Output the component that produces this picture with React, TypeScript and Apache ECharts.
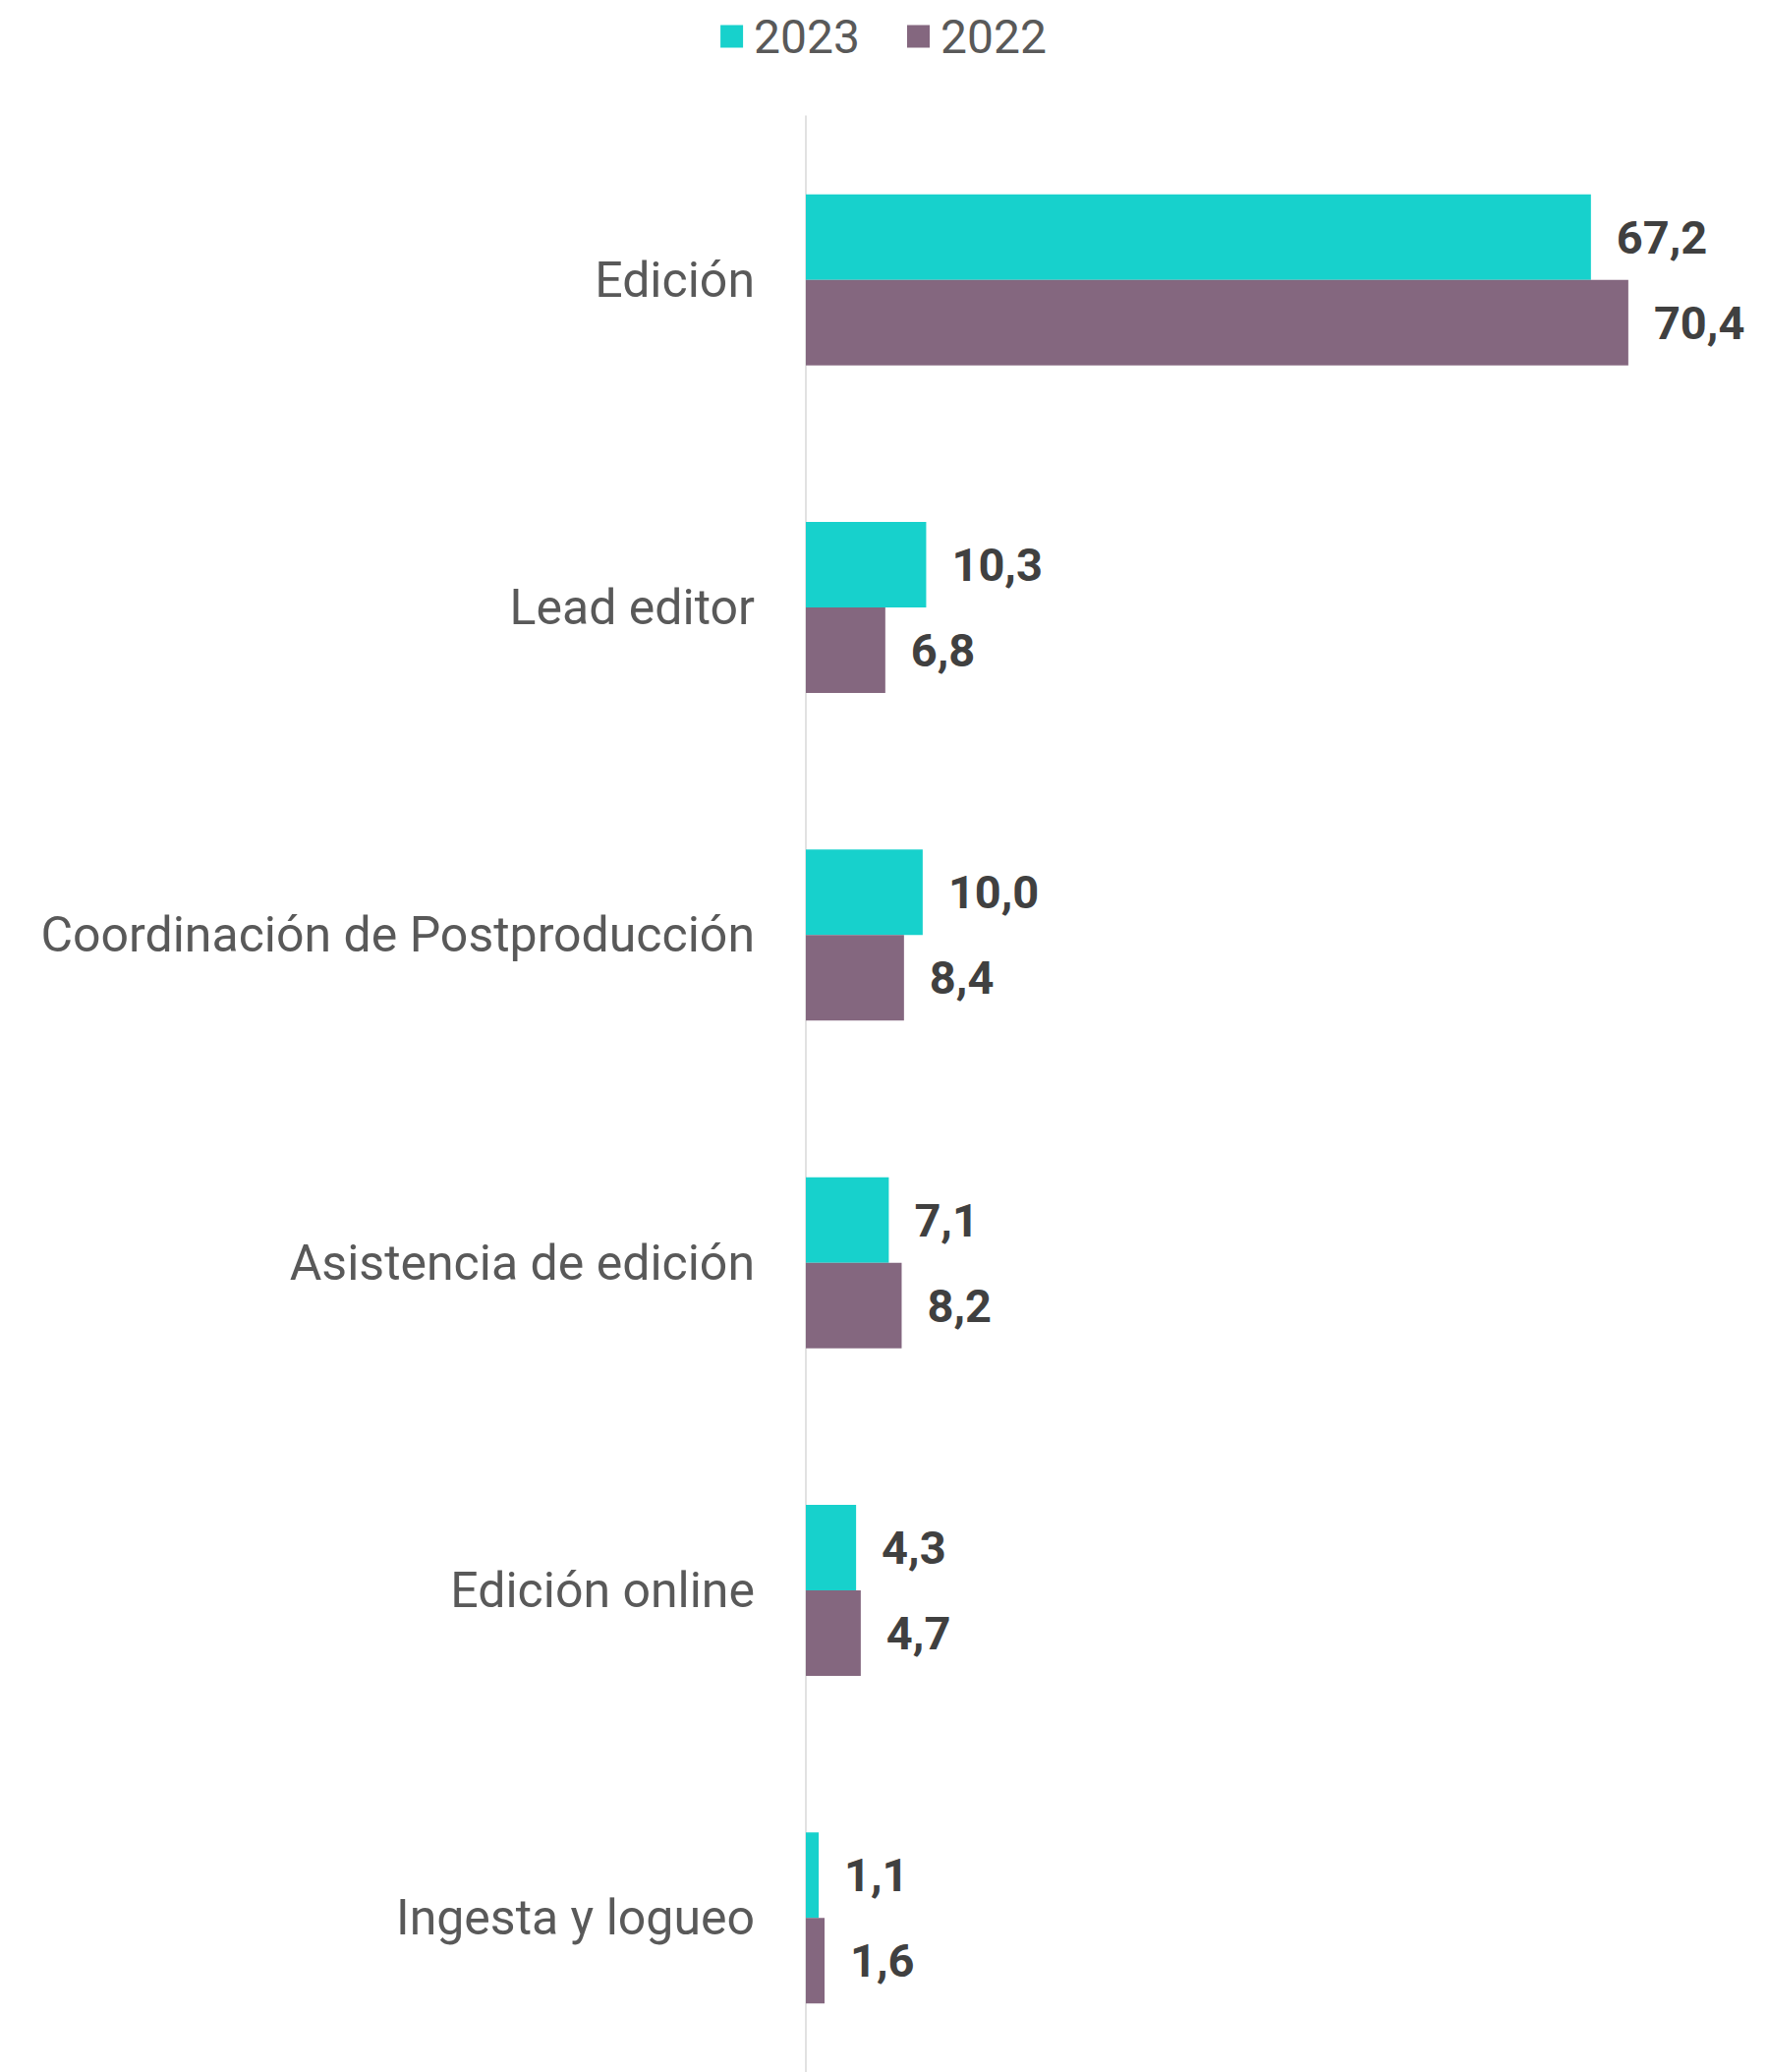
import React, { useEffect, useRef } from "react";
import * as echarts from "echarts";

const categories = [
  "Edición",
  "Lead editor",
  "Coordinación de Postproducción",
  "Asistencia de edición",
  "Edición online",
  "Ingesta y logueo",
];
const seriesNames = ["2023", "2022"];
const values2023 = [67.2, 10.3, 10.0, 7.1, 4.3, 1.1];
const values2022 = [70.4, 6.8, 8.4, 8.2, 4.7, 1.6];
const colors = ["#17D1CC", "#84677F"];

const fmt = (v: number) => v.toFixed(1).replace(".", ",");

export default function App() {
  const ref = useRef<HTMLDivElement>(null);
  useEffect(() => {
    document.body.style.margin = "0";
    document.body.style.overflow = "hidden";
    const chart = echarts.init(ref.current!, null, { renderer: "svg" });
    const label = {
      show: true,
      position: "right",
      distance: 26,
      fontFamily: "Roboto",
      fontWeight: "bold",
      fontSize: 47,
      color: "#404040",
      formatter: (p: any) => fmt(p.value),
    };
    chart.setOption({
      animation: false,
      textStyle: { fontFamily: "Roboto" },
      legend: {
        top: 8,
        left: "center",
        icon: "rect",
        itemWidth: 23,
        itemHeight: 23,
        itemGap: 48,
        textStyle: { fontSize: 48, color: "#595959", fontFamily: "Roboto", padding: [0, 0, 0, 6] },
        data: seriesNames,
      },
      grid: { left: 820, top: 118, width: 951, bottom: 0 },
      xAxis: {
        type: "value",
        min: 0,
        max: 80,
        show: false,
      },
      yAxis: {
        type: "category",
        inverse: true,
        data: categories,
        axisLine: { show: true, lineStyle: { color: "#D9D9D9", width: 1.5 } },
        axisTick: { show: false },
        axisLabel: {
          margin: 52,
          fontSize: 50,
          color: "#595959",
          fontFamily: "Roboto",
        },
      },
      series: [
        {
          name: seriesNames[0],
          type: "bar",
          data: values2023,
          barWidth: 87,
          barGap: "0%",
          itemStyle: { color: colors[0] },
          label,
        },
        {
          name: seriesNames[1],
          type: "bar",
          data: values2022,
          barWidth: 87,
          barGap: "0%",
          itemStyle: { color: colors[1] },
          label,
        },
      ],
    });
    return () => chart.dispose();
  }, []);
  return <div ref={ref} style={{ width: 1798, height: 2118 }} />;
}
